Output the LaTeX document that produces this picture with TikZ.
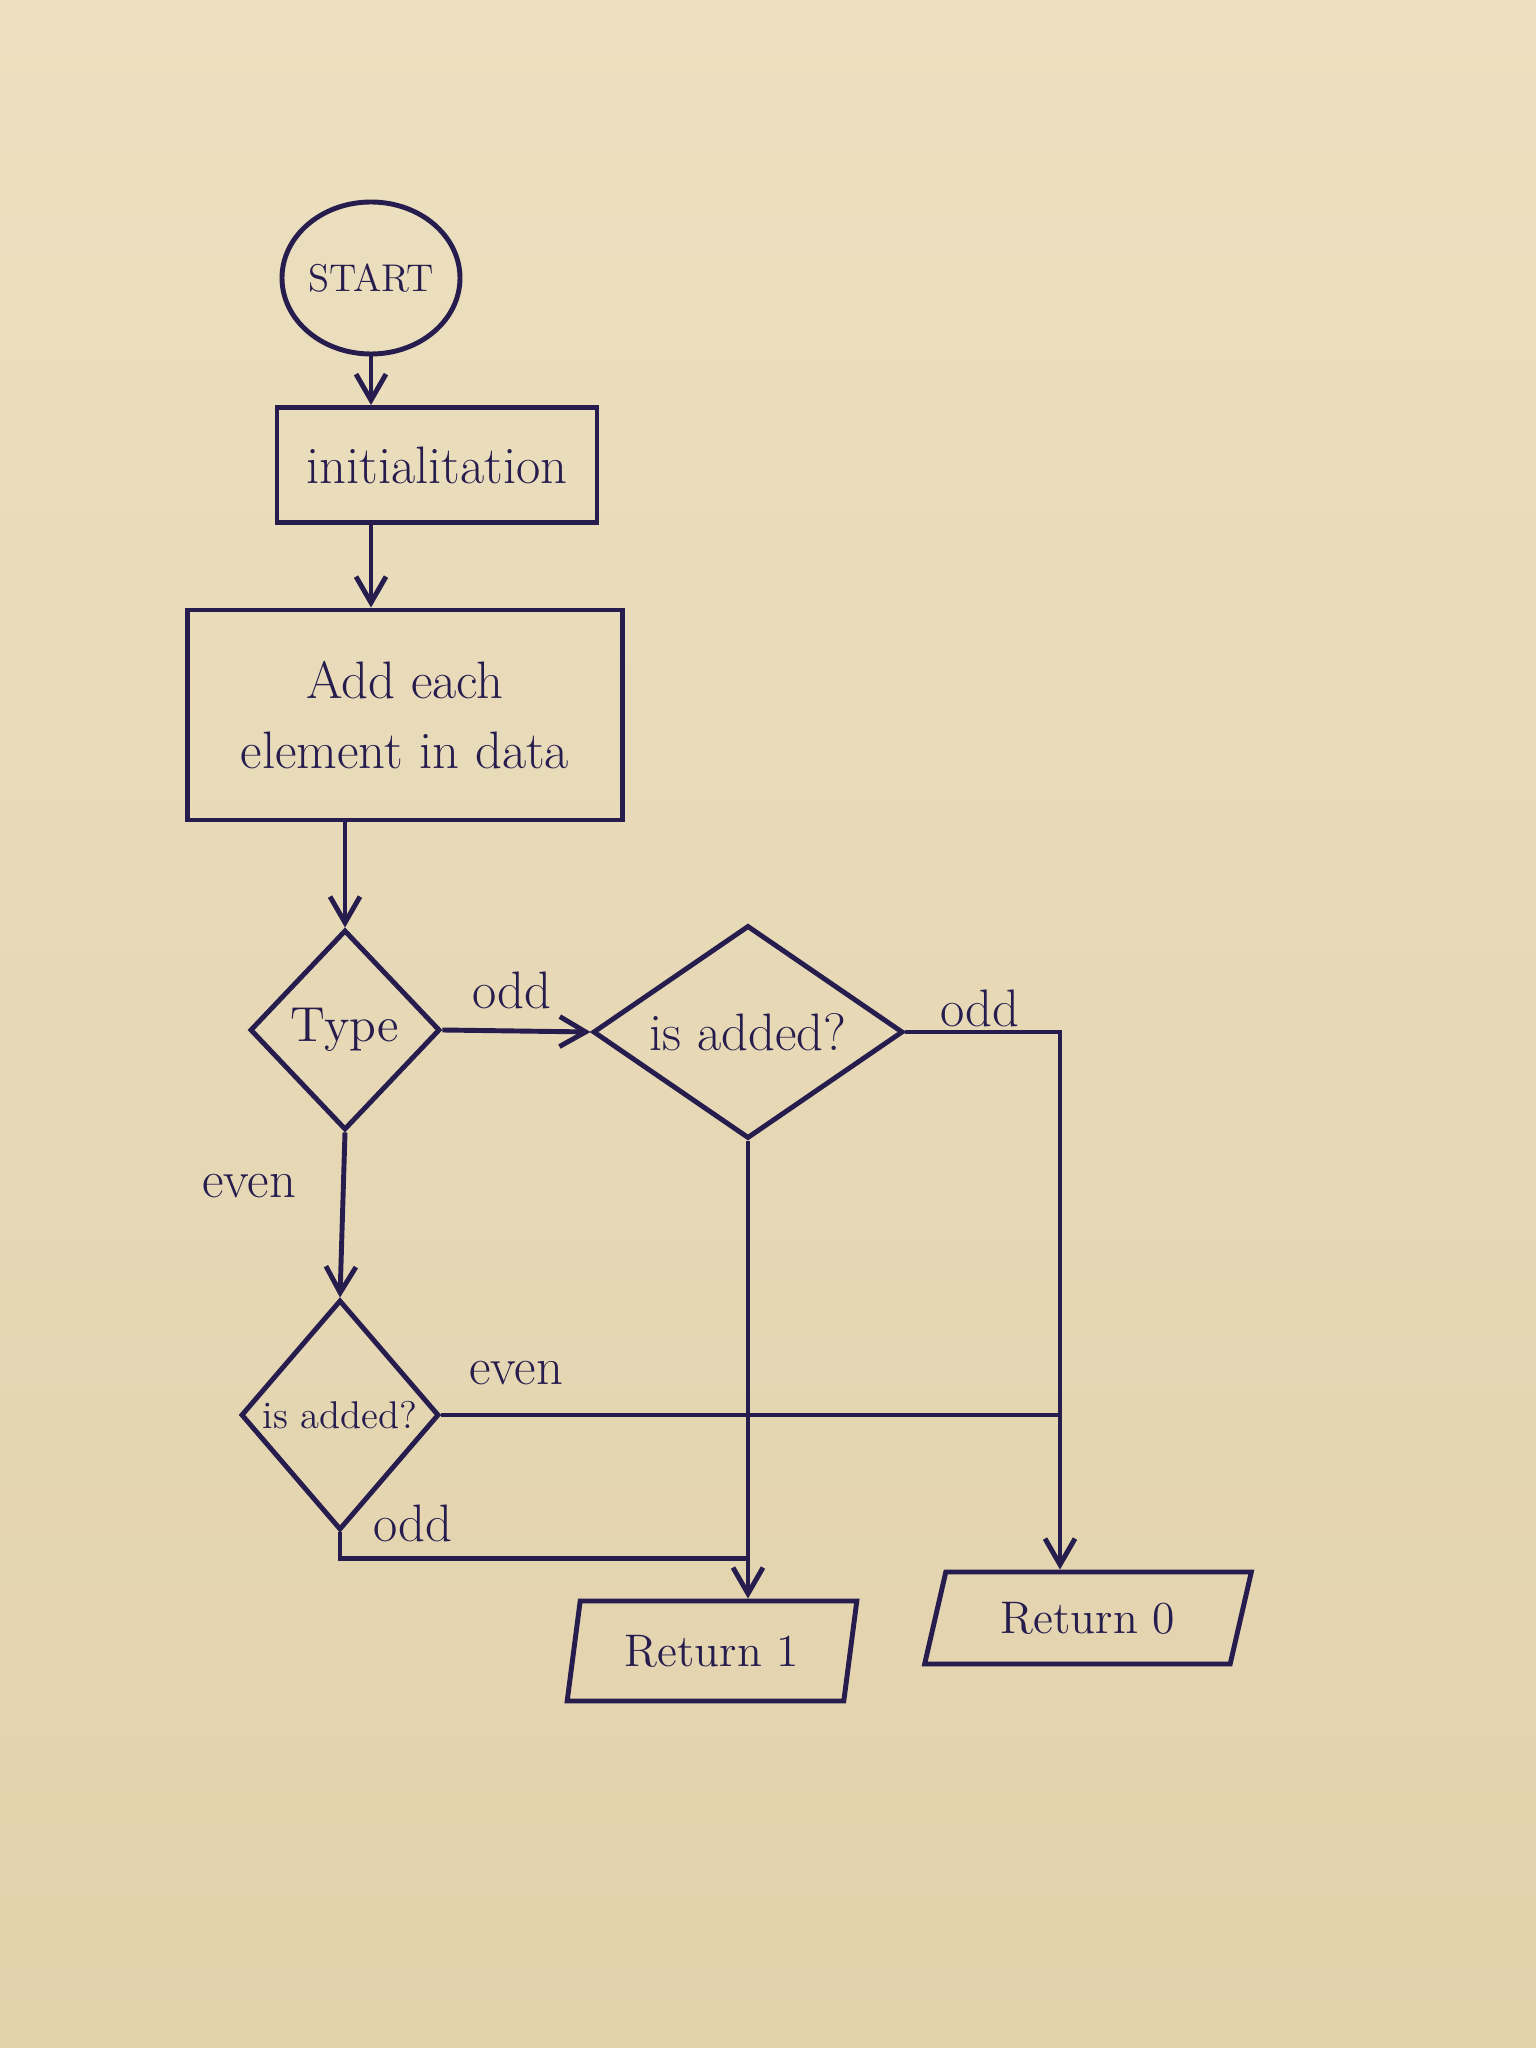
\documentclass[tikz,border=0pt]{standalone}
\usepackage{tikz}
\usetikzlibrary{shapes.geometric,arrows.meta,calc}
\definecolor{paper}{RGB}{226,210,172}
\definecolor{paperlight}{RGB}{236,224,192}
\definecolor{ink}{RGB}{38,28,78}

\begin{document}
\begin{tikzpicture}
      %styles for the chart
      \tikzset{
      ln/.style={draw=ink, line width=1.4pt},
      arr/.style={ln, -{Straight Barb[length=2.6mm,width=3mm]}},
      txt/.style={text=ink, font=\fontsize{15}{20}\selectfont},
      term/.style={ln, txt, ellipse, inner sep=0pt, minimum width=1.78cm, minimum height=1.52cm, font=\fontsize{11}{13}\selectfont},
      proc/.style={ln, txt, rectangle, inner sep=0pt},
      dec/.style={ln, txt, diamond, inner sep=0pt},
      io/.style={ln, txt, trapezium, trapezium stretches=true, inner sep=0pt, font=\fontsize{13}{16}\selectfont},
      }

      %paper
      \shade[top color=paperlight, bottom color=paper] (0,0) rectangle (15.36,20.48);
      \useasboundingbox (0,0) rectangle (15.36,20.48);

      %Stage 1 - start and loop body
      \node[term] (start) at (3.71,17.70) {START};
      \node[proc, minimum width=3.2cm, minimum height=1.15cm] (init) at (4.37,15.83) {initialitation};
      \node[proc, minimum width=4.35cm, minimum height=2.1cm, align=center] (add) at (4.05,13.33) {Add each\\element in data};
      \draw[arr] (start.south) -- (start.south |- init.north);
      \draw[arr] (init.south -| start.south) -- (add.north -| start.south);

      %Stage 2 - decisions
      \node[dec, minimum width=1.9cm, minimum height=2.0cm, font=\fontsize{14}{17}\selectfont] (type) at (3.45,10.18) {Type};
      \node[dec, minimum width=3.1cm, minimum height=2.13cm, aspect=1.45] (check1) at (7.48,10.16) {is added?};
      \node[dec, minimum width=1.98cm, minimum height=2.3cm, aspect=0.86, font=\fontsize{11}{13}\selectfont] (check2) at (3.40,6.33) {is added?};
      \draw[arr] (add.south -| type.north) -- (type.north);
      \draw[arr] (type.east) -- (check1.west);
      \draw[arr] (type.south) -- (check2.north);
      \node[txt] (odd1) at (5.12,10.58) {odd};
      \node[txt] (even1) at (2.49,8.62) {even};

      %Stage 3 - results
      \node[io, minimum width=2.9cm, minimum height=1.0cm, trapezium left angle=75, trapezium right angle=105] (ret1) at (7.12,3.97) {Return 1};
      \node[io, minimum width=3.27cm, minimum height=0.92cm, trapezium left angle=68, trapezium right angle=112] (ret0) at (10.88,4.30) {Return 0};
      \coordinate (c0) at (10.6,10.16);
      \coordinate (c1) at ($(check2.south)+(0,-0.26)$);
      \draw[arr] (check1.east) -- (check1.east -| c0) -- (ret0.north -| c0);
      \draw[arr] (check1.south) -- (check1.south |- ret1.north);
      \draw[ln] (check2.east) -- (check2.east -| c0);
      \draw[ln] (check2.south) -- (c1) -- (c1 -| check1.south);
      \node[txt] (odd2) at (9.80,10.40) {odd};
      \node[txt] (even2) at (5.16,6.75) {even};
      \node[txt] (odd3) at (4.13,5.25) {odd};
\end{tikzpicture}
\end{document}
